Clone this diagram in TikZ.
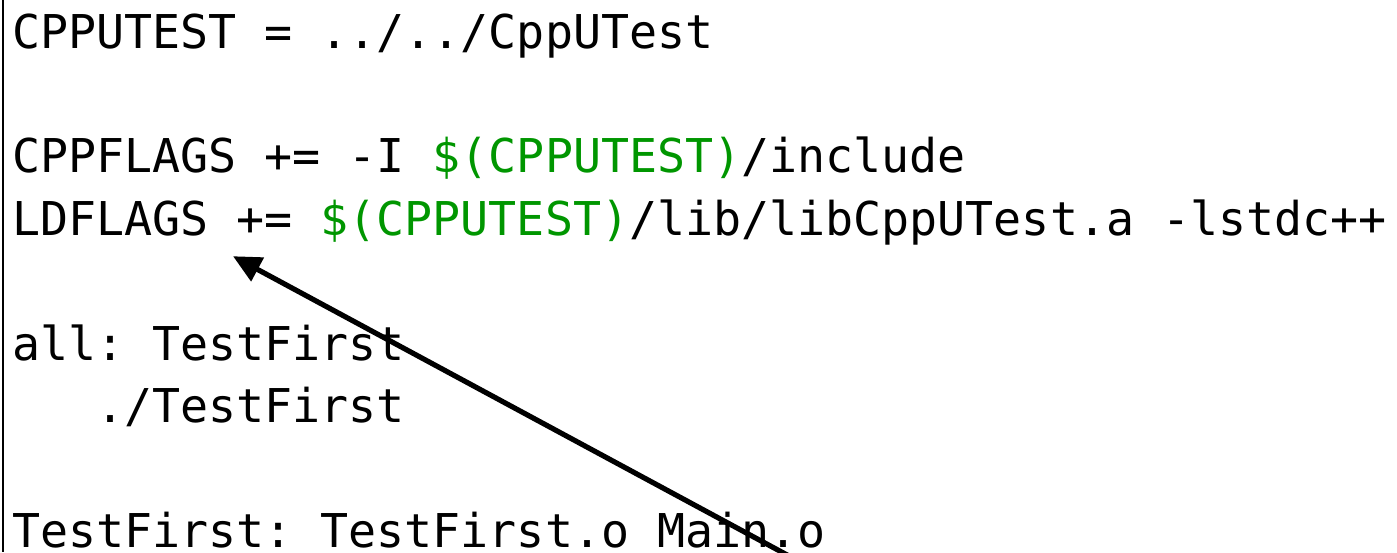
\documentclass[tikz,border=0pt]{standalone}
\usepackage{fontspec}
\setmonofont{DejaVu Sans Mono}
\usepackage{xcolor}
\usetikzlibrary{arrows.meta,calc}
\definecolor{ink}{RGB}{0,0,0}
\definecolor{makevar}{RGB}{0,150,0}
\newcommand{\mvar}[1]{\textcolor{makevar}{#1}}

\begin{document}
\begin{tikzpicture}[x=0.5pt,y=-0.5pt,
    code/.style={anchor=base west,inner sep=0pt,outer sep=0pt,
      font=\ttfamily\fontsize{23.3pt}{31.3pt}\selectfont,text=ink},
    pointer/.style={-{Triangle[length=14pt,width=13pt]},
      line width=2.6pt,draw=ink},
    frame/.style={line width=1pt,draw=ink},
  ]

  \useasboundingbox (0,0) rectangle (1397,552);

  \def\lx{12}
  \def\ly{48}
  \def\lh{62.4}
  \def\cw{28.1}

  \draw[frame] (3,0) -- (3,552);

  \node[code] (cpputest) at (\lx,{\ly+0*\lh}) {CPPUTEST = ../../CppUTest};
  \node[code] (cppflags) at (\lx,{\ly+2*\lh})
    {CPPFLAGS += -I \mvar{\$(CPPUTEST)}/include};
  \node[code] (ldflags) at (\lx,{\ly+3*\lh})
    {LDFLAGS += \mvar{\$(CPPUTEST)}/lib/libCppUTest.a -lstdc++};
  \node[code] (all) at (\lx,{\ly+5*\lh}) {all: TestFirst};
  \node[code] (run) at ({\lx+3*\cw},{\ly+6*\lh}) {./TestFirst};
  \node[code] (target) at (\lx,{\ly+8*\lh}) {TestFirst: TestFirst.o Main.o};

  % pointer to the linker flags
  \coordinate (tip) at ($(ldflags.base west)+(221,21)$);
  \coordinate (tail) at (815,570);
  \draw[pointer] (tail) -- (tip);

\end{tikzpicture}
\end{document}
